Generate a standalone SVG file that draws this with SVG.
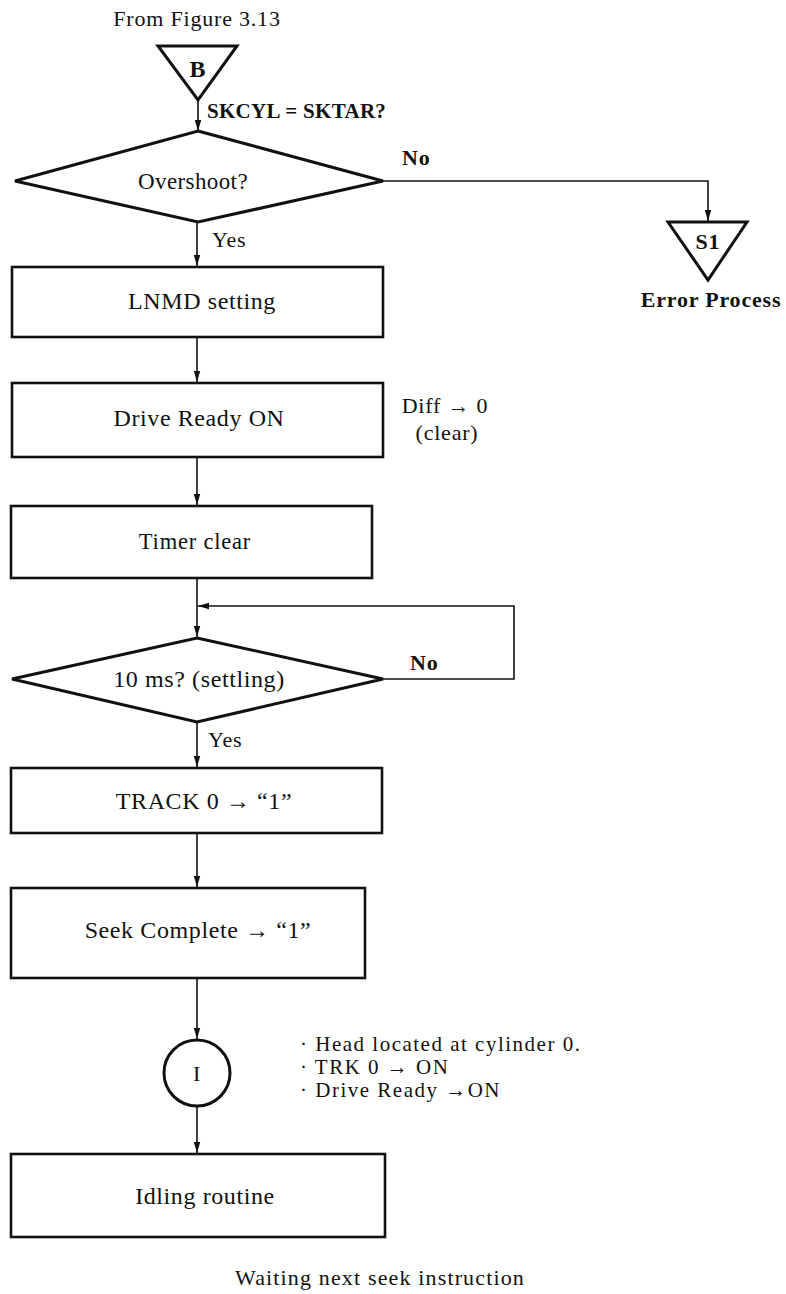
<svg xmlns="http://www.w3.org/2000/svg" width="786" height="1294" viewBox="0 0 786 1294">
<defs>
<marker id="ah" markerUnits="userSpaceOnUse" markerWidth="12" markerHeight="8" refX="11" refY="4" orient="auto">
<path d="M0,0.8 L11,4 L0,7.2 z" fill="#111"/>
</marker>
</defs>
<style>
text{font-family:"Liberation Serif","Times New Roman",serif;fill:#111;font-size:22px;letter-spacing:0.8px}
.c{text-anchor:middle}
.b{font-weight:bold}
.bx{font-size:24px;letter-spacing:0.6px}
.nt{font-size:21px;letter-spacing:1.5px}
.shape{fill:none;stroke:#111;stroke-width:3;stroke-linejoin:miter}
.box{fill:none;stroke:#111;stroke-width:2.6}
.ln{fill:none;stroke:#111;stroke-width:1.6}
</style>
<rect width="786" height="1294" fill="#fff"/>

<g id="connectors">
<line class="ln" x1="198" y1="100" x2="198" y2="131" marker-end="url(#ah)"/>
<polyline class="ln" points="383,181 708,181 708,221" marker-end="url(#ah)"/>
<line class="ln" x1="197" y1="222" x2="197" y2="266" marker-end="url(#ah)"/>
<line class="ln" x1="197" y1="337" x2="197" y2="382" marker-end="url(#ah)"/>
<line class="ln" x1="197" y1="457" x2="197" y2="505" marker-end="url(#ah)"/>
<line class="ln" x1="197" y1="578" x2="197" y2="637" marker-end="url(#ah)"/>
<polyline class="ln" points="383,679 514,679 514,606 198,606" marker-end="url(#ah)"/>
<line class="ln" x1="197" y1="722" x2="197" y2="767" marker-end="url(#ah)"/>
<line class="ln" x1="197" y1="833" x2="197" y2="887" marker-end="url(#ah)"/>
<line class="ln" x1="197" y1="978" x2="197" y2="1039" marker-end="url(#ah)"/>
<line class="ln" x1="197" y1="1107" x2="197" y2="1153" marker-end="url(#ah)"/>
</g>

<g id="label-from"><text class="c" x="197" y="26">From Figure 3.13</text></g>

<g id="node-B">
<polygon class="shape" points="158,46 237,46 198,100"/>
<text class="c b" x="198" y="77" style="font-size:24px">B</text>
</g>
<text class="b" x="207" y="118" style="font-size:21px;letter-spacing:0.3px">SKCYL = SKTAR?</text>

<g id="node-overshoot">
<polygon class="shape" points="198,131 383,181 198,222 15,181"/>
<text class="c" x="193" y="189" style="font-size:23px;letter-spacing:0.4px">Overshoot?</text>
</g>
<text class="b" x="402" y="165">No</text>
<text x="212" y="247">Yes</text>

<g id="node-S1">
<polygon class="shape" points="668,222 747,222 708,280"/>
<text class="c b" x="708" y="249">S1</text>
<text class="c b" x="711" y="307">Error Process</text>
</g>

<g id="node-lnmd">
<rect class="box" x="12" y="267" width="371" height="70"/>
<text class="c bx" x="202" y="309">LNMD setting</text>
</g>

<g id="node-drive-ready">
<rect class="box" x="12" y="383" width="371" height="74"/>
<text class="c bx" x="199" y="426">Drive Ready ON</text>
<text class="c" x="445" y="413">Diff → 0</text>
<text class="c" x="447" y="440">(clear)</text>
</g>

<g id="node-timer">
<rect class="box" x="11" y="506" width="361" height="72"/>
<text class="c" x="195" y="549" style="font-size:22.5px">Timer clear</text>
</g>

<g id="node-10ms">
<polygon class="shape" points="197,638 383,679 197,722 12,679"/>
<text class="c bx" x="199" y="687">10 ms? (settling)</text>
</g>
<text class="b" x="410" y="670">No</text>
<text x="208" y="747">Yes</text>

<g id="node-track0">
<rect class="box" x="11" y="768" width="371" height="65"/>
<text class="c bx" x="204" y="809">TRACK 0 → “1”</text>
</g>

<g id="node-seek-complete">
<rect class="box" x="11" y="888" width="354" height="90"/>
<text class="c bx" x="198" y="938">Seek Complete → “1”</text>
</g>

<g id="node-I">
<circle class="shape" cx="197" cy="1073" r="33" stroke-width="2.6"/>
<text class="c" x="197" y="1081">I</text>
</g>
<g id="notes">
<text class="nt" x="300" y="1051">· Head located at cylinder 0.</text>
<text class="nt" x="300" y="1074">· TRK 0 → ON</text>
<text class="nt" x="300" y="1097">· Drive Ready →ON</text>
</g>

<g id="node-idling">
<rect class="box" x="11" y="1154" width="374" height="83"/>
<text class="c bx" x="205" y="1204">Idling routine</text>
</g>

<g id="label-waiting"><text class="c" x="380" y="1285" style="letter-spacing:1.15px">Waiting next seek instruction</text></g>
</svg>
